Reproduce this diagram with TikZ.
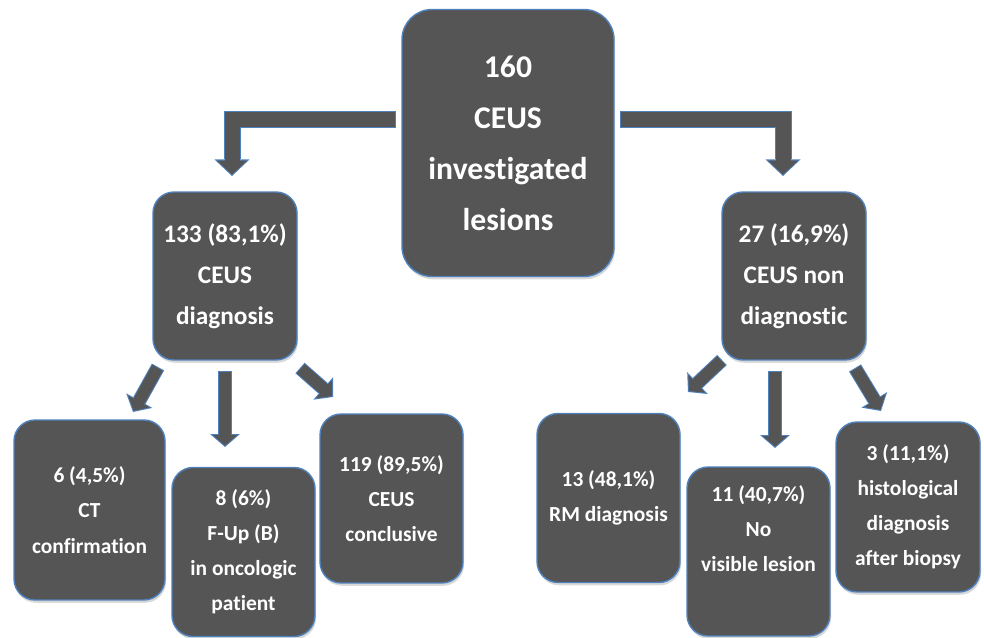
\documentclass[tikz,border=0pt]{standalone}
\usepackage{fontspec}
\setmainfont{Carlito}[Ligatures=NoCommon]
\usetikzlibrary{arrows.meta,shadows}
\definecolor{boxgray}{RGB}{85,85,85}
\definecolor{edgeblue}{RGB}{79,129,189}

\begin{document}
\begin{tikzpicture}
  [x=0.02cm,y=-0.02cm,
   box/.style={draw=edgeblue,line width=0.8pt,fill=boxgray,text=white,align=center,inner sep=0pt,
     rounded corners=0.42cm,drop shadow={shadow xshift=0.6pt,shadow yshift=-1.6pt,opacity=0.3}},
   bigbox/.style={box,rounded corners=0.6cm,minimum width=4.24cm,minimum height=5.34cm,
     font=\bfseries\fontsize{18}{29}\selectfont},
   midbox/.style={box,minimum width=2.88cm,minimum height=3.36cm,
     font=\bfseries\fontsize{14.4}{23.3}\selectfont},
   lowbox/.style={box,minimum width=2.86cm,minimum height=3.38cm,
     font=\bfseries\fontsize{12.2}{20}\selectfont},
   bigarrow/.style={preaction={draw=edgeblue,line width=0.34cm,line join=miter,shorten >=0pt,shorten <=0pt,
       -{Triangle[width=0.7cm,length=0.33cm,line width=0pt]}},
     draw=boxgray,line width=0.30cm,line join=miter,shorten >=0.028cm,shorten <=0.02cm,
     -{Triangle[width=0.6cm,length=0.28cm,line width=0pt]}},
   smallarrow/.style={preaction={draw=edgeblue,line width=0.28cm,shorten >=0pt,shorten <=0pt,
       -{Triangle[width=0.6cm,length=0.26cm,line width=0pt]}},
     draw=boxgray,line width=0.24cm,shorten >=0.027cm,shorten <=0.02cm,
     -{Triangle[width=0.49cm,length=0.213cm,line width=0pt]}}]
  \useasboundingbox (0,0) rectangle (984,638);

  \node[bigbox] (total) at (508,143) {160\\CEUS\\investigated\\lesions};
  \node[midbox] (diag) at (225,276) {133 (83,1\%)\\CEUS\\diagnosis};
  \node[midbox] (nondiag) at (794,276) {27 (16,9\%)\\CEUS non\\diagnostic};

  \node[lowbox,minimum width=3.02cm,minimum height=3.6cm] (ct) at (89.5,510) {6 (4,5\%)\\CT\\confirmation};
  \node[lowbox] (fup) at (243.5,552) {8 (6\%)\\F-Up (B)\\in oncologic\\patient};
  \node[lowbox] (concl) at (391.5,498.5) {119 (89,5\%)\\CEUS\\conclusive};
  \node[lowbox] (rm) at (608.5,498) {13 (48,1\%)\\RM diagnosis};
  \node[lowbox] (novis) at (758.5,551.5) {11 (40,7\%)\\No\\visible lesion\\\strut};
  \node[lowbox,minimum width=2.88cm,minimum height=3.4cm] (histo) at (908,507) {3 (11,1\%)\\histological\\diagnosis\\after biopsy};

  % arrow ends
  \coordinate (tl) at (396,120);
  \coordinate (tr) at (620,120);
  \coordinate (dl) at (232,176);
  \coordinate (dr) at (783,176);
  \coordinate (l1) at (158,367);  \coordinate (l1e) at (133,412);
  \coordinate (l2) at (225,371);  \coordinate (l2e) at (225,447);
  \coordinate (l3) at (300,368);  \coordinate (l3e) at (333,397);
  \coordinate (r1) at (722,360);  \coordinate (r1e) at (688,392);
  \coordinate (r2) at (775,371);  \coordinate (r2e) at (775,448);
  \coordinate (r3) at (855,368);  \coordinate (r3e) at (881,411);

  \draw[bigarrow] (tl) -| (dl);
  \draw[bigarrow] (tr) -| (dr);
  \foreach \from/\to in {l1/l1e, l2/l2e, l3/l3e, r1/r1e, r2/r2e, r3/r3e}
    \draw[smallarrow] (\from) -- (\to);
\end{tikzpicture}
\end{document}
